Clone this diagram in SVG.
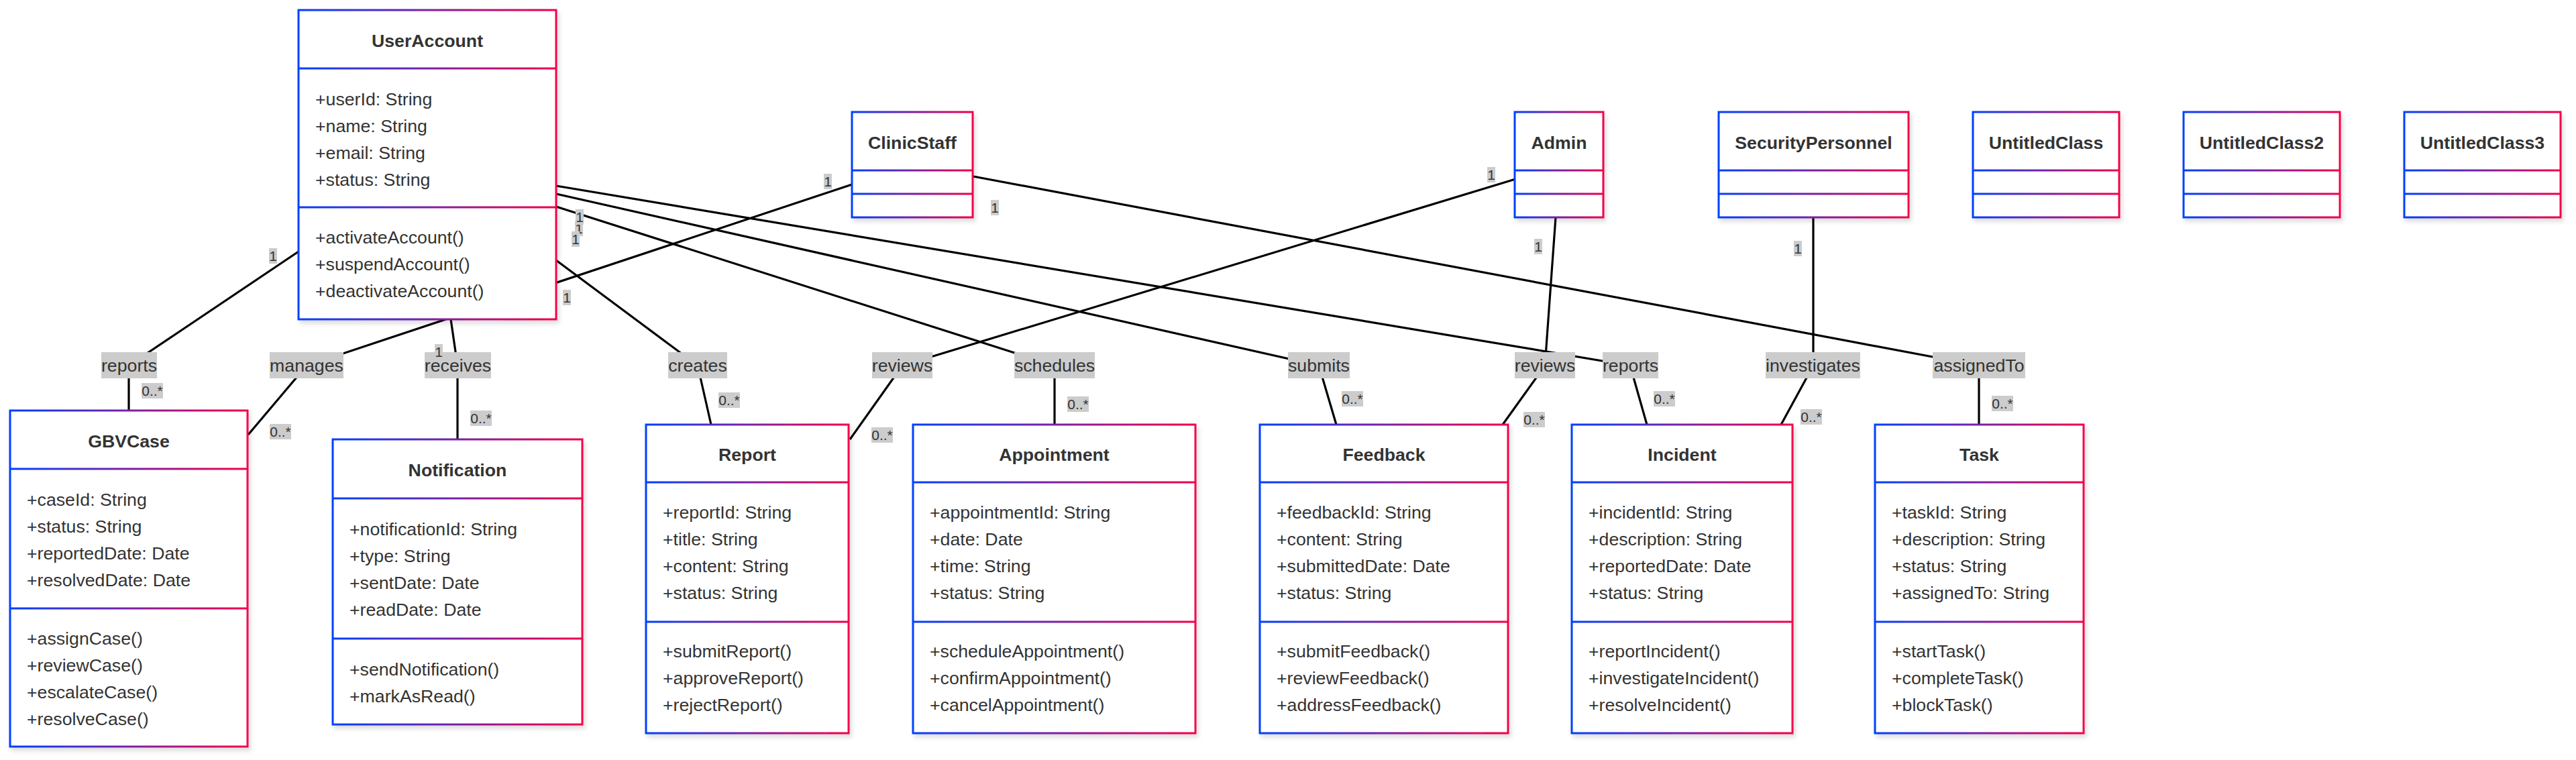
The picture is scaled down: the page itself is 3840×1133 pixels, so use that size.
<svg xmlns="http://www.w3.org/2000/svg" width="3840" height="1133" viewBox="0 0 3840 1133">
<defs>
<linearGradient id="g" x1="0" y1="0" x2="1" y2="0">
<stop offset="0" stop-color="#0040ff"/>
<stop offset="1" stop-color="#f5004a"/>
</linearGradient>
<filter id="sh" x="-5%" y="-5%" width="115%" height="115%">
<feDropShadow dx="3" dy="5" stdDeviation="3" flood-color="#000" flood-opacity="0.13"/>
</filter>
</defs>
<style>
.box{fill:#fff;stroke:url(#g);stroke-width:3;filter:url(#sh)}
.div{fill:url(#g)}
.t{font-family:"Liberation Sans",Arial,sans-serif;font-size:26.7px;fill:#333}
.title{font-weight:bold;text-anchor:middle}
.edge{fill:none;stroke:#000;stroke-width:3.2;stroke-linejoin:round}
.lbg{fill:#cccccc}
.lt{font-family:"Liberation Sans",Arial,sans-serif;font-size:26.7px;fill:#333;text-anchor:middle}
.ct{font-family:"Liberation Sans",Arial,sans-serif;font-size:21px;fill:#333;text-anchor:middle}
</style>
<rect width="3840" height="1133" fill="#fff"/>

<g id="connectors">
<path class="edge" d="M445,375 L192,545 L192,612"/>
<path class="edge" d="M370,648 L457,545 L1270,275"/>
<path class="edge" d="M672,476 L682,545 L682,655"/>
<path class="edge" d="M829,388 L1040,545 L1060,633"/>
<path class="edge" d="M2259,267 L1345,545 L1267,655"/>
<path class="edge" d="M829,308 L1572,545 L1572,633"/>
<path class="edge" d="M829,289 L1966,545 L1992,633"/>
<path class="edge" d="M2319,324 L2303,545 L2240,633"/>
<path class="edge" d="M829,277 L2430,545 L2455,633"/>
<path class="edge" d="M2703,324 L2703,545 L2655,633"/>
<path class="edge" d="M1451,263 L2950,545 L2950,633"/>
</g>

<g id="node-UserAccount">
<rect class="box" x="445" y="15" width="384" height="461"/>
<rect class="div" x="445" y="100.5" width="384" height="3"/>
<rect class="div" x="445" y="307.5" width="384" height="3"/>
<text class="t title" x="637" y="70">UserAccount</text>
<text class="t" x="470" y="157">+userId: String</text>
<text class="t" x="470" y="197">+name: String</text>
<text class="t" x="470" y="237">+email: String</text>
<text class="t" x="470" y="277">+status: String</text>
<text class="t" x="470" y="363">+activateAccount()</text>
<text class="t" x="470" y="403">+suspendAccount()</text>
<text class="t" x="470" y="443">+deactivateAccount()</text>
</g>

<g id="node-ClinicStaff">
<rect class="box" x="1270" y="167" width="180" height="157"/>
<rect class="div" x="1270" y="252.5" width="180" height="3"/>
<rect class="div" x="1270" y="287.5" width="180" height="3"/>
<text class="t title" x="1360" y="222">ClinicStaff</text>
</g>

<g id="node-Admin">
<rect class="box" x="2258" y="167" width="132" height="157"/>
<rect class="div" x="2258" y="252.5" width="132" height="3"/>
<rect class="div" x="2258" y="287.5" width="132" height="3"/>
<text class="t title" x="2324" y="222">Admin</text>
</g>

<g id="node-SecurityPersonnel">
<rect class="box" x="2562" y="167" width="283" height="157"/>
<rect class="div" x="2562" y="252.5" width="283" height="3"/>
<rect class="div" x="2562" y="287.5" width="283" height="3"/>
<text class="t title" x="2703.5" y="222">SecurityPersonnel</text>
</g>

<g id="node-UntitledClass">
<rect class="box" x="2941" y="167" width="218" height="157"/>
<rect class="div" x="2941" y="252.5" width="218" height="3"/>
<rect class="div" x="2941" y="287.5" width="218" height="3"/>
<text class="t title" x="3050" y="222">UntitledClass</text>
</g>

<g id="node-UntitledClass2">
<rect class="box" x="3255" y="167" width="233" height="157"/>
<rect class="div" x="3255" y="252.5" width="233" height="3"/>
<rect class="div" x="3255" y="287.5" width="233" height="3"/>
<text class="t title" x="3371.5" y="222">UntitledClass2</text>
</g>

<g id="node-UntitledClass3">
<rect class="box" x="3584" y="167" width="233" height="157"/>
<rect class="div" x="3584" y="252.5" width="233" height="3"/>
<rect class="div" x="3584" y="287.5" width="233" height="3"/>
<text class="t title" x="3700.5" y="222">UntitledClass3</text>
</g>

<g id="node-GBVCase">
<rect class="box" x="15" y="612" width="354" height="501"/>
<rect class="div" x="15" y="697.5" width="354" height="3"/>
<rect class="div" x="15" y="905.5" width="354" height="3"/>
<text class="t title" x="192" y="667">GBVCase</text>
<text class="t" x="40" y="754">+caseId: String</text>
<text class="t" x="40" y="794">+status: String</text>
<text class="t" x="40" y="834">+reportedDate: Date</text>
<text class="t" x="40" y="874">+resolvedDate: Date</text>
<text class="t" x="40" y="961">+assignCase()</text>
<text class="t" x="40" y="1001">+reviewCase()</text>
<text class="t" x="40" y="1041">+escalateCase()</text>
<text class="t" x="40" y="1081">+resolveCase()</text>
</g>

<g id="node-Notification">
<rect class="box" x="496" y="655" width="372" height="425"/>
<rect class="div" x="496" y="741.5" width="372" height="3"/>
<rect class="div" x="496" y="950.5" width="372" height="3"/>
<text class="t title" x="682" y="710">Notification</text>
<text class="t" x="521" y="798">+notificationId: String</text>
<text class="t" x="521" y="838">+type: String</text>
<text class="t" x="521" y="878">+sentDate: Date</text>
<text class="t" x="521" y="918">+readDate: Date</text>
<text class="t" x="521" y="1007">+sendNotification()</text>
<text class="t" x="521" y="1047">+markAsRead()</text>
</g>

<g id="node-Report">
<rect class="box" x="963" y="633" width="302" height="460"/>
<rect class="div" x="963" y="717.5" width="302" height="3"/>
<rect class="div" x="963" y="925.5" width="302" height="3"/>
<text class="t title" x="1114" y="687">Report</text>
<text class="t" x="988" y="773">+reportId: String</text>
<text class="t" x="988" y="813">+title: String</text>
<text class="t" x="988" y="853">+content: String</text>
<text class="t" x="988" y="893">+status: String</text>
<text class="t" x="988" y="980">+submitReport()</text>
<text class="t" x="988" y="1020">+approveReport()</text>
<text class="t" x="988" y="1060">+rejectReport()</text>
</g>

<g id="node-Appointment">
<rect class="box" x="1361" y="633" width="421" height="460"/>
<rect class="div" x="1361" y="717.5" width="421" height="3"/>
<rect class="div" x="1361" y="925.5" width="421" height="3"/>
<text class="t title" x="1571.5" y="687">Appointment</text>
<text class="t" x="1386" y="773">+appointmentId: String</text>
<text class="t" x="1386" y="813">+date: Date</text>
<text class="t" x="1386" y="853">+time: String</text>
<text class="t" x="1386" y="893">+status: String</text>
<text class="t" x="1386" y="980">+scheduleAppointment()</text>
<text class="t" x="1386" y="1020">+confirmAppointment()</text>
<text class="t" x="1386" y="1060">+cancelAppointment()</text>
</g>

<g id="node-Feedback">
<rect class="box" x="1878" y="633" width="370" height="460"/>
<rect class="div" x="1878" y="717.5" width="370" height="3"/>
<rect class="div" x="1878" y="925.5" width="370" height="3"/>
<text class="t title" x="2063" y="687">Feedback</text>
<text class="t" x="1903" y="773">+feedbackId: String</text>
<text class="t" x="1903" y="813">+content: String</text>
<text class="t" x="1903" y="853">+submittedDate: Date</text>
<text class="t" x="1903" y="893">+status: String</text>
<text class="t" x="1903" y="980">+submitFeedback()</text>
<text class="t" x="1903" y="1020">+reviewFeedback()</text>
<text class="t" x="1903" y="1060">+addressFeedback()</text>
</g>

<g id="node-Incident">
<rect class="box" x="2343" y="633" width="329" height="460"/>
<rect class="div" x="2343" y="717.5" width="329" height="3"/>
<rect class="div" x="2343" y="925.5" width="329" height="3"/>
<text class="t title" x="2507.5" y="687">Incident</text>
<text class="t" x="2368" y="773">+incidentId: String</text>
<text class="t" x="2368" y="813">+description: String</text>
<text class="t" x="2368" y="853">+reportedDate: Date</text>
<text class="t" x="2368" y="893">+status: String</text>
<text class="t" x="2368" y="980">+reportIncident()</text>
<text class="t" x="2368" y="1020">+investigateIncident()</text>
<text class="t" x="2368" y="1060">+resolveIncident()</text>
</g>

<g id="node-Task">
<rect class="box" x="2795" y="633" width="311" height="460"/>
<rect class="div" x="2795" y="717.5" width="311" height="3"/>
<rect class="div" x="2795" y="925.5" width="311" height="3"/>
<text class="t title" x="2950.5" y="687">Task</text>
<text class="t" x="2820" y="773">+taskId: String</text>
<text class="t" x="2820" y="813">+description: String</text>
<text class="t" x="2820" y="853">+status: String</text>
<text class="t" x="2820" y="893">+assignedTo: String</text>
<text class="t" x="2820" y="980">+startTask()</text>
<text class="t" x="2820" y="1020">+completeTask()</text>
<text class="t" x="2820" y="1060">+blockTask()</text>
</g>

<g id="edge-labels">
<rect class="lbg" x="151" y="525" width="83" height="39"/><text class="lt" x="192.5" y="554">reports</text>
<rect class="lbg" x="402" y="525" width="110" height="39"/><text class="lt" x="457" y="554">manages</text>
<rect class="lbg" x="633" y="525" width="99" height="39"/><text class="lt" x="682.5" y="554">receives</text>
<rect class="lbg" x="996" y="525" width="88" height="39"/><text class="lt" x="1040" y="554">creates</text>
<rect class="lbg" x="1300" y="525" width="90" height="39"/><text class="lt" x="1345" y="554">reviews</text>
<rect class="lbg" x="1512" y="525" width="120" height="39"/><text class="lt" x="1572" y="554">schedules</text>
<rect class="lbg" x="1920" y="525" width="92" height="39"/><text class="lt" x="1966" y="554">submits</text>
<rect class="lbg" x="2258" y="525" width="90" height="39"/><text class="lt" x="2303" y="554">reviews</text>
<rect class="lbg" x="2389" y="525" width="83" height="39"/><text class="lt" x="2430.5" y="554">reports</text>
<rect class="lbg" x="2632" y="525" width="141" height="39"/><text class="lt" x="2702.5" y="554">investigates</text>
<rect class="lbg" x="2881" y="525" width="138" height="39"/><text class="lt" x="2950" y="554">assignedTo</text>
</g>

<g id="cardinality-labels">
<rect class="lbg" x="401" y="370" width="12" height="23"/><text class="ct" x="407" y="389">1</text>
<rect class="lbg" x="648" y="513" width="12" height="23"/><text class="ct" x="654" y="532">1</text>
<rect class="lbg" x="857" y="329" width="12" height="23"/><text class="ct" x="863" y="348">1</text>
<rect class="lbg" x="858" y="312" width="12" height="23"/><text class="ct" x="864" y="331">1</text>
<rect class="lbg" x="852" y="345" width="12" height="23"/><text class="ct" x="858" y="364">1</text>
<rect class="lbg" x="839" y="432" width="12" height="23"/><text class="ct" x="845" y="451">1</text>
<rect class="lbg" x="1228" y="259" width="12" height="23"/><text class="ct" x="1234" y="278">1</text>
<rect class="lbg" x="1477" y="298" width="12" height="23"/><text class="ct" x="1483" y="317">1</text>
<rect class="lbg" x="2217" y="249" width="12" height="23"/><text class="ct" x="2223" y="268">1</text>
<rect class="lbg" x="2287" y="356" width="12" height="23"/><text class="ct" x="2293" y="375">1</text>
<rect class="lbg" x="2674" y="359" width="12" height="23"/><text class="ct" x="2680" y="378">1</text>
<rect class="lbg" x="211" y="571" width="32" height="23"/><text class="ct" x="227" y="590">0..*</text>
<rect class="lbg" x="402" y="632" width="32" height="23"/><text class="ct" x="418" y="651">0..*</text>
<rect class="lbg" x="701" y="612" width="32" height="23"/><text class="ct" x="717" y="631">0..*</text>
<rect class="lbg" x="1071" y="585" width="32" height="23"/><text class="ct" x="1087" y="604">0..*</text>
<rect class="lbg" x="1299" y="637" width="32" height="23"/><text class="ct" x="1315" y="656">0..*</text>
<rect class="lbg" x="1591" y="591" width="32" height="23"/><text class="ct" x="1607" y="610">0..*</text>
<rect class="lbg" x="2000" y="583" width="32" height="23"/><text class="ct" x="2016" y="602">0..*</text>
<rect class="lbg" x="2271" y="614" width="32" height="23"/><text class="ct" x="2287" y="633">0..*</text>
<rect class="lbg" x="2465" y="583" width="32" height="23"/><text class="ct" x="2481" y="602">0..*</text>
<rect class="lbg" x="2684" y="610" width="32" height="23"/><text class="ct" x="2700" y="629">0..*</text>
<rect class="lbg" x="2969" y="590" width="32" height="23"/><text class="ct" x="2985" y="609">0..*</text>
</g>
</svg>
